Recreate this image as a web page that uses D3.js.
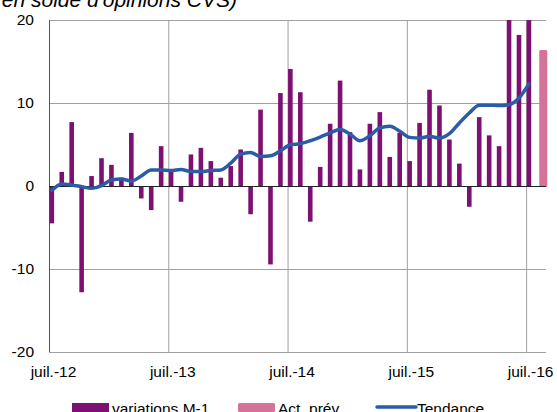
<!DOCTYPE html>
<html>
<head>
<meta charset="utf-8">
<script src="https://cdnjs.cloudflare.com/ajax/libs/d3/7.8.5/d3.min.js"></script>
<style>
  body { margin: 0; background: #fff; }
  svg { display: block; font-family: "Liberation Sans", Arial, sans-serif; }
</style>
</head>
<body>
<div id="chart"></div>
<script>
// months juil.-12 .. août-16
var months = d3.timeMonth.range(new Date(2012, 6, 1), new Date(2016, 8, 1));

// variations M-1 (solde d'opinions)
var variations = [-4.5, 1.7, 7.7, -12.8, 1.2, 3.35, 2.55, 1.0, 6.4, -1.5, -2.9, 4.8,
                  1.8, -1.9, 3.8, 4.6, 3.0, 1.0, 2.4, 4.4, -3.4, 9.2, -9.45, 11.2,
                  14.1, 11.3, -4.3, 2.3, 7.5, 12.7, 6.5, 2.0, 7.5, 8.9, 3.5, 6.4,
                  3.0, 7.6, 11.6, 9.7, 5.6, 2.7, -2.5, 8.3, 6.1, 4.8, 22, 18.2,
                  21, null];
// Act. prév
var prevision = [null, null, null, null, null, null, null, null, null, null, null, null,
                 null, null, null, null, null, null, null, null, null, null, null, null,
                 null, null, null, null, null, null, null, null, null, null, null, null,
                 null, null, null, null, null, null, null, null, null, null, null, null,
                 null, 16.4];
// Tendance
var tendance = [-0.55, 0.24, 0.12, -0.08, -0.28, 0.04, 0.73, 0.85, 0.6, 1.2, 1.94, 1.94,
                1.86, 2.0, 1.74, 1.74, 1.86, 1.94, 2.75, 3.84, 4.04, 3.56, 3.64, 4.24,
                4.97, 5.1, 5.45, 5.9, 6.4, 6.8, 6.26, 5.45, 6.06, 7.0, 7.2, 6.6,
                5.86, 5.78, 5.98, 5.78, 6.3, 7.6, 8.8, 9.74, 9.74, 9.7, 9.8, 10.6,
                12.3, null];

var yTicks = [-20, -10, 0, 10, 20];
var xTickIdx = [0, 12, 24, 36, 48];
var xTickLabels = ["juil.-12", "juil.-13", "juil.-14", "juil.-15", "juil.-16"];

var w = 557, h = 412;
var mLeft = 49, mRight = 546, mTop = 20, mBottom = 352;

var svg = d3.select("#chart").append("svg")
    .attr("width", w)
    .attr("height", h);

var x = d3.scaleBand()
    .domain(d3.range(months.length))
    .range([mLeft, mRight])
    .padding(0);

var y = d3.scaleLinear()
    .domain([-20, 20])
    .range([mBottom, mTop]);

svg.append("clipPath").attr("id", "plot")
  .append("rect")
    .attr("x", mLeft).attr("y", mTop)
    .attr("width", mRight - mLeft + 4).attr("height", mBottom - mTop);

// horizontal grid
svg.selectAll("line.hgrid")
    .data(yTicks.filter(function(d) { return d !== 0; }))
    .enter().append("line")
    .attr("class", "hgrid")
    .attr("x1", mLeft).attr("x2", mRight)
    .attr("y1", function(d) { return y(d) + 0.5; })
    .attr("y2", function(d) { return y(d) + 0.5; })
    .attr("stroke", "#a0a0a0")
    .attr("stroke-width", 1);

// vertical grid
svg.selectAll("line.vgrid")
    .data(xTickIdx)
    .enter().append("line")
    .attr("class", "vgrid")
    .attr("x1", function(d) { return x(d) + 0.5; })
    .attr("x2", function(d) { return x(d) + 0.5; })
    .attr("y1", mTop).attr("y2", mBottom)
    .attr("stroke", function(d) { return d === 0 ? "#555" : "#a0a0a0"; })
    .attr("stroke-width", 1);

var g = svg.append("g").attr("clip-path", "url(#plot)");

// variations M-1
g.selectAll("rect.var")
    .data(variations.map(function(v, i) { return {i: i, v: v}; }).filter(function(d) { return d.v !== null; }))
    .enter().append("rect")
    .attr("class", "var")
    .attr("x", function(d) { return x(d.i) + 0.5; })
    .attr("width", 4.6)
    .attr("y", function(d) { return y(Math.max(0, d.v)); })
    .attr("height", function(d) { return Math.abs(y(d.v) - y(0)); })
    .attr("fill", "#7d1173");

// Act. prév
g.selectAll("rect.prev")
    .data(prevision.map(function(v, i) { return {i: i, v: v}; }).filter(function(d) { return d.v !== null; }))
    .enter().append("rect")
    .attr("class", "prev")
    .attr("x", function(d) { return x(d.i) + 3.2; })
    .attr("width", 8)
    .attr("y", function(d) { return y(d.v); })
    .attr("height", function(d) { return y(0) - y(d.v) + 1; })
    .attr("rx", 1.5)
    .attr("fill", "#d27397");

// zero line
svg.append("line")
    .attr("x1", mLeft).attr("x2", mRight)
    .attr("y1", y(0) + 0.5).attr("y2", y(0) + 0.5)
    .attr("stroke", "#222")
    .attr("stroke-width", 1);

// Tendance
var line = d3.line()
    .defined(function(d) { return d !== null; })
    .x(function(d, i) { return x(i) + 2.8; })
    .y(function(d) { return y(d); })
    .curve(d3.curveMonotoneX);

svg.append("path")
    .datum(tendance)
    .attr("d", line)
    .attr("fill", "none")
    .attr("stroke", "#2a5ca8")
    .attr("stroke-width", 3.5)
    .attr("stroke-linecap", "round")
    .attr("stroke-linejoin", "round");

// y labels
svg.selectAll("text.ylab")
    .data(yTicks)
    .enter().append("text")
    .attr("class", "ylab")
    .attr("x", 34)
    .attr("y", function(d) { return y(d) + 5; })
    .attr("text-anchor", "end")
    .attr("font-size", "15.5px")
    .attr("fill", "#000")
    .text(function(d) { return d; });

// x labels
svg.selectAll("text.xlab")
    .data(xTickIdx)
    .enter().append("text")
    .attr("class", "xlab")
    .attr("x", function(d) { return x(d) + x.bandwidth() / 2 - 0.5; })
    .attr("y", 377)
    .attr("text-anchor", "middle")
    .attr("font-size", "15.5px")
    .attr("fill", "#000")
    .text(function(d, i) { return xTickLabels[i]; });

// title (cut at the top)
svg.append("text")
    .attr("x", 237)
    .attr("y", 7)
    .attr("text-anchor", "end")
    .attr("font-size", "21px")
    .attr("font-style", "italic")
    .attr("fill", "#000")
    .text("(en solde d'opinions CVS)");

// legend
var legend = [
  {label: "variations M-1", type: "rect", color: "#7d1173", x: 72},
  {label: "Act. prév", type: "rect", color: "#d27397", x: 238},
  {label: "Tendance", type: "line", color: "#2a5ca8", x: 377}
];

legend.forEach(function(d) {
  if (d.type === "rect") {
    svg.append("rect")
        .attr("x", d.x).attr("y", 403)
        .attr("width", 37).attr("height", 9)
        .attr("rx", d.color === "#d27397" ? 1.5 : 0)
        .attr("fill", d.color);
  } else {
    svg.append("line")
        .attr("x1", d.x).attr("x2", d.x + 39)
        .attr("y1", 407).attr("y2", 407)
        .attr("stroke", d.color)
        .attr("stroke-width", 3.5)
        .attr("stroke-linecap", "round");
  }
  svg.append("text")
      .attr("x", d.x + 40)
      .attr("y", 414)
      .attr("font-size", "15.5px")
      .attr("fill", "#000")
      .text(d.label);
});
</script>
</body>
</html>
